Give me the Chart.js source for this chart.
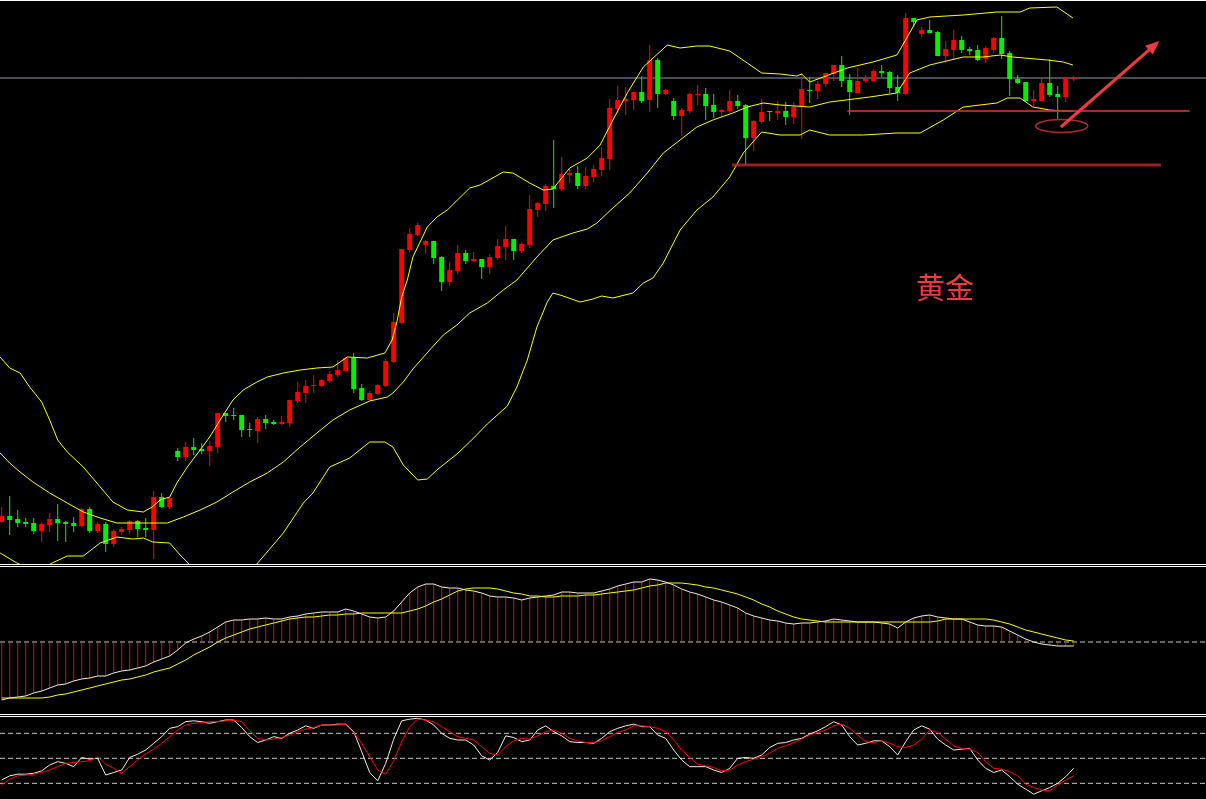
<!DOCTYPE html>
<html>
<head>
<meta charset="utf-8">
<title>黄金</title>
<script src="https://cdn.jsdelivr.net/npm/chart.js@4.4.1/dist/chart.umd.min.js"></script>
<style>
  html, body { margin: 0; padding: 0; background: #000; overflow: hidden; }
  #wrap { position: relative; width: 1206px; height: 799px; background: #000; }
  .pane { position: absolute; left: 0; width: 1206px; }
  .sep { position: absolute; left: 0; width: 1206px; height: 1px; background: #fff; }
</style>
</head>
<body>
<div id="wrap">
  <div class="sep" style="top:0"></div>
  <div class="pane" style="top:1px;height:563px"><canvas id="priceChart"></canvas></div>
  <div class="sep" style="top:564px"></div>
  <div class="sep" style="top:566px"></div>
  <div class="pane" style="top:567px;height:147px"><canvas id="macdChart"></canvas></div>
  <div class="sep" style="top:714px"></div>
  <div class="sep" style="top:716px"></div>
  <div class="pane" style="top:717px;height:82px"><canvas id="kdChart"></canvas></div>
</div>
<script>
// 蜡烛数据 (开/高/低/收)
const open = [1878,1884,1881,1878,1877,1869,1875,1881,1878,1877,
  1874,1891,1869,1876,1856,1868,1870,1879,1872,1870,
  1903,1893,1949,1943,1953,1951,1949,1953,1987,1985,
  1985,1971,1969,1981,1978,1976,1977,1999,2007,2014,
  2014,2019,2025,2029,2042,2012,2000,2006,2014,2038,
  2077,2150,2165,2155,2159,2143,2118,2129,2147,2139,
  2141,2133,2142,2153,2161,2149,2155,2190,2196,2214,
  2211,2225,2227,2214,2223,2230,2241,2291,2299,2300,
  2308,2300,2340,2306,2299,2284,2289,2305,2306,2295,
  2288,2289,2299,2295,2262,2278,2289,2287,2289,2283,
  2293,2310,2309,2316,2326,2335,2320,2307,2319,2319,
  2329,2328,2313,2306,2382,2366,2370,2368,2344,2350,
  2360,2351,2350,2341,2350,2362,2347,2321,2318,2299,
  2299,2317,2306,2303,2321];
const high = [1893,1904,1890,1882,1882,1878,1887,1896,1879,1883,
  1892,1893,1878,1878,1871,1873,1880,1880,1882,1909,
  1907,1903,1952,1958,1962,1957,1959,1987,1987,1992,
  1985,1977,1983,1985,1980,1984,2000,2018,2020,2025,
  2021,2029,2040,2043,2047,2016,2009,2016,2041,2087,
  2151,2172,2177,2160,2159,2144,2138,2155,2150,2148,
  2141,2146,2161,2174,2161,2158,2205,2198,2216,2260,
  2243,2231,2234,2233,2235,2253,2301,2314,2313,2308,
  2324,2355,2342,2311,2302,2292,2307,2315,2312,2306,
  2291,2310,2305,2296,2280,2301,2289,2299,2298,2298,
  2327,2323,2319,2327,2335,2344,2326,2332,2325,2331,
  2335,2329,2325,2387,2382,2373,2380,2369,2359,2370,
  2364,2353,2355,2354,2363,2384,2349,2325,2318,2310,
  2321,2341,2314,2323,2324];
const low = [1877,1865,1873,1873,1866,1858,1868,1859,1858,1868,
  1873,1867,1867,1848,1853,1865,1866,1863,1863,1841,
  1892,1891,1939,1939,1945,1946,1934,1947,1978,1980,
  1963,1963,1957,1971,1975,1975,1973,1997,1997,2007,
  2013,2017,2023,2028,2007,1999,1999,2005,2013,2037,
  2076,2148,2164,2146,2136,2109,2114,2126,2136,2138,
  2121,2126,2140,2140,2140,2147,2152,2183,2189,2192,
  2209,2217,2211,2211,2218,2224,2230,2287,2285,2290,
  2297,2288,2292,2305,2280,2264,2287,2295,2280,2282,
  2283,2287,2291,2235,2249,2276,2279,2280,2275,2276,
  2261,2297,2301,2313,2319,2313,2285,2307,2317,2319,
  2323,2307,2299,2305,2373,2363,2367,2344,2337,2340,
  2347,2345,2339,2337,2347,2341,2304,2316,2298,2294,
  2299,2303,2281,2298,2319];
const close = [1884,1880,1877,1876,1869,1876,1881,1877,1876,1874,
  1891,1869,1876,1856,1869,1871,1879,1871,1870,1903,
  1893,1902,1943,1953,1950,1949,1954,1987,1984,1984,
  1970,1970,1981,1977,1976,1978,2000,2008,2014,2015,
  2020,2026,2030,2042,2011,2000,2007,2015,2039,2078,
  2151,2166,2175,2159,2142,2118,2130,2147,2139,2141,
  2133,2143,2154,2161,2149,2156,2191,2197,2214,2211,
  2226,2227,2214,2224,2231,2242,2292,2300,2301,2308,
  2299,2340,2306,2310,2284,2290,2306,2306,2294,2288,
  2290,2299,2294,2262,2279,2288,2288,2289,2283,2293,
  2311,2309,2316,2327,2335,2319,2308,2319,2321,2329,
  2327,2312,2307,2382,2378,2370,2367,2344,2351,2360,
  2350,2349,2340,2352,2362,2346,2321,2317,2299,2301,
  2317,2305,2303,2322,2322];

// 布林带 [K线序号, 价格]
const upperBand = [[-0.2,2043],[1.0,2032],[2.3,2027],[3.5,2013],[5.0,1998],[6.0,1980],[7.0,1960],[8.2,1948],
  [10.2,1933],[11.9,1917],[13.9,1898],[15.7,1890],[17.7,1888],[18.8,1893],[19.8,1900],[21.0,1903],
  [21.9,1917],[23.2,1933],[24.8,1950],[26.0,1963],[27.3,1980],[28.9,2000],[30.2,2010],[31.9,2018],
  [33.2,2023],[35.2,2027],[37.3,2030],[39.4,2032],[41.4,2033],[43.2,2043],[45.7,2042],[47.9,2047],
  [48.8,2060],[49.4,2078],[50.0,2103],[50.7,2120],[51.4,2143],[53.2,2173],[54.4,2183],[55.7,2190],
  [58.5,2212],[59.8,2215],[62.7,2228],[63.9,2227],[66.0,2217],[67.7,2210],[68.9,2211],[71.0,2232],
  [73.2,2242],[74.8,2255],[76.4,2280],[78.2,2307],[80.2,2333],[83.2,2355],[84.8,2352],[86.9,2354],
  [88.5,2354],[91.0,2349],[93.2,2337],[95.0,2327],[97.3,2326],[99.4,2324],[100.0,2326],[101.0,2318],
  [102.7,2323],[105.7,2332],[108.9,2338],[111.9,2345],[113.2,2363],[114.4,2380],[116.0,2383],[120.2,2385],
  [124.4,2388],[127.3,2388],[128.5,2392],[131.9,2393],[133.9,2382]];
const middleBand = [[-0.2,1947],[1.0,1937],[2.3,1928],[3.9,1918],[6.0,1907],[8.2,1897],[10.2,1888],[12.3,1882],
  [14.4,1877],[16.4,1877],[18.5,1877],[20.7,1877],[22.7,1883],[24.8,1890],[26.9,1898],[28.9,1908],
  [31.0,1918],[33.2,1927],[35.2,1938],[37.3,1953],[39.4,1967],[41.4,1980],[43.5,1990],[46.0,1999],
  [48.2,2003],[48.9,2007],[50.2,2018],[51.4,2031],[53.5,2050],[55.2,2065],[56.9,2075],[58.5,2087],
  [60.7,2097],[62.7,2110],[64.4,2120],[66.9,2143],[68.9,2160],[71.4,2167],[73.2,2171],[74.4,2177],
  [76.4,2192],[78.5,2207],[80.7,2227],[82.7,2247],[84.8,2260],[86.9,2273],[88.9,2280],[91.4,2287],
  [93.2,2293],[95.2,2297],[97.3,2295],[101.0,2293],[103.5,2298],[108.5,2303],[111.9,2307],[113.5,2327],
  [116.0,2335],[120.2,2343],[122.7,2343],[124.8,2345],[126.4,2343],[130.7,2340],[132.7,2338],[133.9,2335]];
const lowerBand = [[-0.2,1847],[1.9,1837],[4.3,1828],[6.3,1837],[8.2,1844],[10.2,1844],[12.3,1857],[14.4,1863],
  [16.4,1861],[17.7,1862],[18.9,1858],[21.0,1857],[22.3,1845],[23.3,1837],[27.5,1790],[32.0,1837],
  [35.2,1867],[37.7,1897],[38.9,1907],[41.0,1933],[43.5,1942],[46.0,1958],[47.9,1958],[48.9,1953],
  [50.2,1935],[52.0,1920],[53.2,1921],[54.4,1930],[56.9,1946],[58.5,1958],[60.7,1976],[63.2,1994],
  [64.4,2013],[65.7,2040],[66.9,2073],[68.2,2098],[68.9,2107],[69.8,2105],[72.3,2098],[73.9,2101],
  [75.0,2104],[76.4,2102],[78.9,2107],[80.2,2117],[81.4,2122],[82.7,2137],[84.8,2170],[86.9,2190],
  [88.9,2203],[91.0,2223],[92.7,2247],[95.0,2268],[97.3,2265],[99.8,2265],[101.0,2270],[103.5,2265],
  [107.7,2265],[111.9,2267],[114.8,2267],[117.7,2280],[120.2,2293],[124.4,2297],[125.7,2302],[127.3,2302],
  [128.9,2293],[131.0,2290],[132.7,2289],[133.9,2289]];

// MACD
const macd = [-58,-56,-55,-54,-51,-49,-46,-43,-42,-39,
  -37,-36,-34,-34,-31,-29,-28,-26,-24,-20,
  -17,-14,-8,-1,3,6,10,15,20,22,
  22,23,23,24,23,23,25,26,28,29,
  30,30,30,33,31,28,25,24,25,31,
  40,49,55,58,58,55,54,54,52,51,
  49,46,45,45,44,42,44,45,46,47,
  50,50,49,49,49,51,53,56,58,60,
  60,63,62,60,57,53,50,48,45,42,
  40,37,34,29,26,24,22,21,19,18,
  19,19,20,21,23,22,21,20,20,20,
  19,18,14,20,24,26,27,25,24,23,
  23,20,17,16,16,15,11,7,3,0,
  -2,-3,-4,-4,-4];
const signal = [-56,-56,-56,-56,-56,-56,-55,-53,-52,-50,
  -48,-46,-44,-42,-40,-38,-37,-35,-33,-30,
  -28,-26,-22,-18,-13,-9,-5,0,4,7,
  10,13,15,17,19,21,23,24,25,25,
  26,27,27,28,28,29,29,29,29,29,
  29,31,33,36,40,43,47,51,53,54,
  54,54,53,51,49,48,46,46,45,45,
  46,46,46,47,47,48,49,50,51,52,
  54,56,57,59,59,59,58,57,55,54,
  52,50,48,45,42,38,35,31,28,25,
  23,22,21,20,20,20,20,20,20,20,
  20,20,20,20,20,20,20,21,23,23,
  23,23,23,23,22,20,18,15,12,10,
  8,6,4,2,1];

// KD
const kLine = [24,29,31,31,32,35,42,46,44,40,
  51,49,50,30,33,36,51,55,60,68,
  76,86,88,94,95,94,92,94,96,96,
  87,76,69,72,76,74,80,84,89,86,
  90,90,91,91,82,58,33,23,44,73,
  95,97,98,96,90,80,74,72,72,66,
  53,48,57,77,75,70,72,84,89,82,
  77,70,69,69,68,74,82,86,89,91,
  88,88,78,74,60,48,40,40,40,36,
  33,38,50,51,50,54,63,68,69,72,
  74,79,83,88,94,90,76,66,68,71,
  71,64,54,70,84,89,85,73,66,60,
  61,62,48,38,33,36,28,19,13,7,
  11,15,20,28,38];
const dLine = [18,25,29,30,31,33,36,40,44,45,
  46,47,52,43,38,32,40,48,55,61,
  68,76,84,90,92,93,94,94,95,96,
  94,83,74,72,73,75,78,82,85,87,
  90,90,90,91,81,68,52,36,31,47,
  70,88,97,96,94,88,82,76,74,72,
  64,56,54,64,71,74,73,77,82,84,
  80,74,71,69,69,71,76,81,84,89,
  89,88,86,82,72,60,51,43,41,39,
  35,36,42,46,49,52,56,62,65,69,
  73,78,81,84,89,91,86,78,70,69,
  71,68,64,63,66,73,84,81,73,65,
  62,61,57,46,38,37,34,29,19,15,
  12,11,18,24,29];
const kdLevels = [20, 50, 80];

// 画线标注
const supportLines = [[105.7, 148.5, 2289], [91.3, 144.9, 2235]];
const ringCenter = [132.5, 2274];
const ringRadius = [3.25, 6.5];
const arrowPath = [[132.4, 2273], [144.7, 2359]];
const labelText = '黄金';
const labelPos = [117.9, 2112];

// 坐标范围
const xMin = -0.2125, xMax = 150.5375;

const idx = open.map((v, i) => i);
const candleColors = idx.map(i => close[i] >= open[i] ? '#ff0000' : '#00f000');
const toPoints = arr => arr.map(p => ({ x: p[0], y: p[1] }));
const flat = (y, a = xMin, b = xMax) => [{ x: a, y: y }, { x: b, y: y }];

function xAxis() {
    return { type: 'linear', display: false, min: xMin, max: xMax, offset: false };
}
function lineSet(data, color, width, order, dash) {
    return {
        type: 'line', data: data, borderColor: color, borderWidth: width,
        pointRadius: 0, tension: 0, fill: false, order: order, borderDash: dash || []
    };
}
const baseOptions = {
    responsive: true,
    maintainAspectRatio: false,
    animation: false,
    events: [],
    layout: { padding: 0 },
    plugins: { legend: { display: false }, tooltip: { enabled: false } }
};

// 椭圆、箭头、文字
const drawMarks = {
    id: 'drawMarks',
    afterDatasetsDraw(chart) {
        const ctx = chart.ctx;
        const sx = chart.scales.x, sy = chart.scales.y;
        ctx.save();
        const cx = sx.getPixelForValue(ringCenter[0]);
        const cy = sy.getPixelForValue(ringCenter[1]);
        const rx = Math.abs(sx.getPixelForValue(ringCenter[0] + ringRadius[0]) - cx);
        const ry = Math.abs(sy.getPixelForValue(ringCenter[1] + ringRadius[1]) - cy);
        ctx.beginPath();
        ctx.ellipse(cx, cy, rx, ry, 0, 0, Math.PI * 2);
        ctx.strokeStyle = '#b02c2c';
        ctx.lineWidth = 1.5;
        ctx.stroke();

        const x0 = sx.getPixelForValue(arrowPath[0][0]), y0 = sy.getPixelForValue(arrowPath[0][1]);
        const x1 = sx.getPixelForValue(arrowPath[1][0]), y1 = sy.getPixelForValue(arrowPath[1][1]);
        const a = Math.atan2(y1 - y0, x1 - x0);
        const len = 15;
        ctx.strokeStyle = '#ee3c3c';
        ctx.lineWidth = 3;
        ctx.beginPath();
        ctx.moveTo(x0, y0);
        ctx.lineTo(x1 - len * 0.8 * Math.cos(a), y1 - len * 0.8 * Math.sin(a));
        ctx.stroke();
        ctx.fillStyle = '#ee3c3c';
        ctx.beginPath();
        ctx.moveTo(x1, y1);
        ctx.lineTo(x1 - len * Math.cos(a - 0.4), y1 - len * Math.sin(a - 0.4));
        ctx.lineTo(x1 - len * Math.cos(a + 0.4), y1 - len * Math.sin(a + 0.4));
        ctx.closePath();
        ctx.fill();

        ctx.font = '29px "Noto Sans CJK SC", sans-serif';
        ctx.fillStyle = '#f23a3a';
        ctx.textAlign = 'center';
        ctx.textBaseline = 'middle';
        ctx.fillText(labelText, sx.getPixelForValue(labelPos[0]), sy.getPixelForValue(labelPos[1]));
        ctx.restore();
    }
};

// 主图: K线 + 布林带
new Chart(document.getElementById('priceChart').getContext('2d'), {
    type: 'bar',
    data: {
        datasets: [
            lineSet(flat(supportLines[0][2], supportLines[0][0], supportLines[0][1]), 'rgba(205,45,45,0.85)', 2, 0),
            lineSet(flat(supportLines[1][2], supportLines[1][0], supportLines[1][1]), 'rgba(185,38,38,0.85)', 3, 0),
            lineSet(flat(close[close.length - 1]), '#8c9aab', 1, 5),
            lineSet(toPoints(upperBand), '#ffff00', 1, 1),
            lineSet(toPoints(middleBand), '#ffff00', 1, 1),
            lineSet(toPoints(lowerBand), '#ffff00', 1, 1),
            {
                data: idx.map(i => ({ x: i, y: [open[i], close[i]] })),
                backgroundColor: candleColors,
                barThickness: 5, minBarLength: 1, grouped: false, borderWidth: 0,
                inflateAmount: 0, order: 2
            },
            {
                data: idx.map(i => ({ x: i, y: [low[i], high[i]] })),
                backgroundColor: candleColors,
                barThickness: 1, minBarLength: 1, grouped: false, borderWidth: 0,
                inflateAmount: 0, order: 3
            }
        ]
    },
    options: Object.assign({}, baseOptions, {
        scales: {
            x: xAxis(),
            y: { type: 'linear', display: false, min: 1836, max: 2399 }
        }
    }),
    plugins: [drawMarks]
});

// MACD
new Chart(document.getElementById('macdChart').getContext('2d'), {
    type: 'bar',
    data: {
        datasets: [
            lineSet(idx.map(i => ({ x: i, y: signal[i] })), '#ffff00', 1, 0),
            lineSet(idx.map(i => ({ x: i, y: macd[i] })), '#f3efdc', 1, 1),
            {
                data: idx.map(i => ({ x: i, y: macd[i] })),
                backgroundColor: '#ff0000',
                barThickness: 1, grouped: false, borderWidth: 0,
                inflateAmount: 0, order: 2
            },
            lineSet(flat(0), '#c8c8c8', 1, 3, [5, 3])
        ]
    },
    options: Object.assign({}, baseOptions, {
        scales: {
            x: xAxis(),
            y: { type: 'linear', display: false, min: -72, max: 75 }
        }
    })
});

// KD
new Chart(document.getElementById('kdChart').getContext('2d'), {
    type: 'line',
    data: {
        datasets: [
            lineSet(idx.map(i => ({ x: i, y: dLine[i] })), '#ff0000', 1, 0),
            lineSet(idx.map(i => ({ x: i, y: kLine[i] })), '#f3f0e4', 1, 1)
        ].concat(kdLevels.map(v => lineSet(flat(v), '#c8c8c8', 1, 2, [5, 3])))
    },
    options: Object.assign({}, baseOptions, {
        scales: {
            x: xAxis(),
            y: { type: 'linear', display: false, min: 1.2, max: 99.6 }
        }
    })
});
</script>
</body>
</html>
